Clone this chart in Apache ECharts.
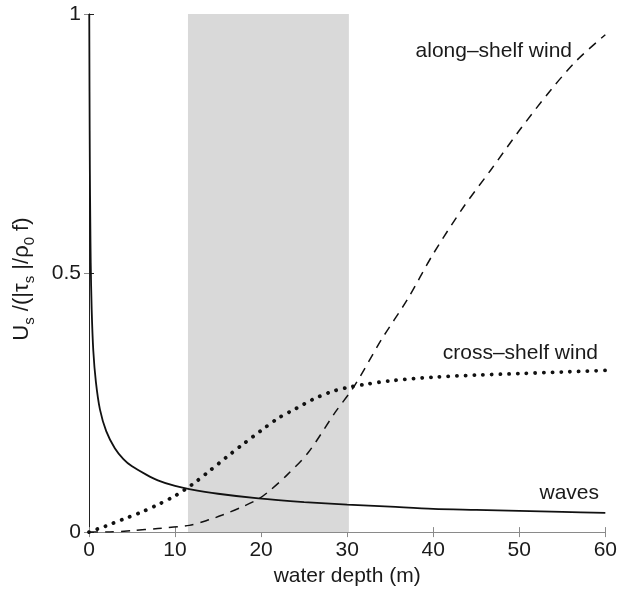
<!DOCTYPE html>
<html>
<head>
<meta charset="utf-8">
<script src="https://cdn.jsdelivr.net/npm/echarts@6/dist/echarts.min.js"></script>
<style>
  html, body { margin: 0; padding: 0; background: #fff; }
  #main { width: 620px; height: 592px; }
</style>
</head>
<body>
<div id="main"></div>
<script>
// values (water depth in m, normalised surface velocity)
var wavesDepth = [0.03, 0.06, 0.1, 0.15, 0.2, 0.31, 0.5, 0.8, 1.27, 2, 3, 4, 5, 6.65, 8, 10, 11.65, 15, 19.7, 25, 30, 35, 40, 45, 50, 55, 60];
var wavesVal = [1.0, 0.85, 0.7, 0.6, 0.52, 0.43, 0.35, 0.29, 0.237, 0.195, 0.162, 0.141, 0.127, 0.111, 0.1, 0.089, 0.083, 0.074, 0.065, 0.058, 0.053, 0.049, 0.045, 0.043, 0.041, 0.039, 0.037];

var crossDepth = [0, 1, 2, 4, 6, 8, 10, 12, 14, 16, 18, 20, 22, 24, 26, 28, 30, 32, 35, 40, 45, 50, 55, 60];
var crossVal = [0, 0.006, 0.012, 0.025, 0.038, 0.053, 0.07, 0.092, 0.118, 0.145, 0.171, 0.196, 0.22, 0.238, 0.256, 0.27, 0.279, 0.285, 0.292, 0.299, 0.303, 0.306, 0.309, 0.312];

var alongDepth = [0, 2, 5, 8, 11.65, 14, 15.5, 18, 19.7, 21, 23, 25.5, 28.6, 30.8, 34, 37, 40, 43.5, 46.65, 50, 53.6, 56.65, 60];
var alongVal = [0, 0, 0.003, 0.007, 0.013, 0.024, 0.033, 0.05, 0.064, 0.08, 0.11, 0.154, 0.231, 0.281, 0.372, 0.449, 0.537, 0.627, 0.698, 0.775, 0.852, 0.91, 0.96];

var shadedRange = [11.5, 30.2];
var xTicks = [0, 10, 20, 30, 40, 50, 60];
var yTicks = [0, 0.5, 1];

function pairs(xs, ys) {
    return xs.map(function (x, i) { return [x, ys[i]]; });
}

var font = 'Liberation Sans, Arial, sans-serif';
var chart = echarts.init(document.getElementById('main'));

function xAxisCfg(pos, showLabel) {
    return {
        type: 'value', position: pos, min: xTicks[0], max: xTicks[xTicks.length - 1], interval: 10,
        axisLine: { show: true, lineStyle: { color: '#8a8a8a', width: 1 } },
        axisTick: { show: true, inside: false, length: 5, lineStyle: { color: '#8a8a8a' } },
        axisLabel: { show: showLabel, fontSize: 21, color: '#1a1a1a', fontFamily: font, margin: 8 },
        splitLine: { show: false }
    };
}
function yAxisCfg(pos, showLabel, lineColor) {
    return {
        type: 'value', position: pos, min: yTicks[0], max: yTicks[yTicks.length - 1], interval: 0.5,
        axisLine: { show: true, lineStyle: { color: lineColor, width: 1 } },
        axisTick: { show: true, inside: false, length: 5, lineStyle: { color: lineColor } },
        axisLabel: { show: showLabel, fontSize: 21, color: '#1a1a1a', fontFamily: font, margin: 8 },
        splitLine: { show: false }
    };
}

var xBottom = xAxisCfg('bottom', true);
xBottom.name = 'water depth (m)';
xBottom.nameLocation = 'middle';
xBottom.nameGap = 32;
xBottom.nameTextStyle = { fontSize: 21, color: '#1a1a1a', fontFamily: font };

var yLeft = yAxisCfg('left', true, '#8a8a8a');
yLeft.name = '{b|U}{s|s}{b| /(|τ}{s|s}{b| |/ρ}{s|0}{b| f)}';
yLeft.nameLocation = 'middle';
yLeft.nameRotate = 90;
yLeft.nameGap = 52;
yLeft.nameTextStyle = {
    fontFamily: font, color: '#1a1a1a', padding: [0, 12, 0, 0],
    rich: {
        b: { fontSize: 22, lineHeight: 30, fontFamily: font, color: '#1a1a1a' },
        s: { fontSize: 15, lineHeight: 15, verticalAlign: 'bottom', fontFamily: font, color: '#1a1a1a' }
    }
};

chart.setOption({
    backgroundColor: '#fff',
    animation: false,
    grid: { left: 89, right: 11, top: 14, bottom: 59 },
    xAxis: [xBottom, xAxisCfg('top', false)],
    yAxis: [yLeft, yAxisCfg('right', false, '#222')],
    series: [
        {
            type: 'line', data: [], silent: true,
            markArea: {
                silent: true,
                itemStyle: { color: '#d9d9d9' },
                data: [[{ xAxis: shadedRange[0] }, { xAxis: shadedRange[1] }]]
            }
        },
        {
            name: 'waves', type: 'line', data: pairs(wavesDepth, wavesVal),
            symbol: 'none', smooth: 0.3, clip: true,
            lineStyle: { color: '#111', width: 1.8 }
        },
        {
            name: 'cross-shelf wind', type: 'line', data: pairs(crossDepth, crossVal),
            symbol: 'none', smooth: 0.3,
            lineStyle: { color: '#111', width: 3.8, type: [0.1, 8.6], cap: 'round' }
        },
        {
            name: 'along-shelf wind', type: 'line', data: pairs(alongDepth, alongVal),
            symbol: 'none', smooth: 0.3,
            lineStyle: { color: '#111', width: 1.5, type: [9, 7] }
        }
    ],
    graphic: [
        { type: 'text', x: 572, y: 51, style: { text: 'along–shelf wind', fontSize: 21, fontFamily: font, fill: '#1a1a1a', align: 'right', verticalAlign: 'middle' } },
        { type: 'text', x: 598, y: 353, style: { text: 'cross–shelf wind', fontSize: 21, fontFamily: font, fill: '#1a1a1a', align: 'right', verticalAlign: 'middle' } },
        { type: 'text', x: 599, y: 493, style: { text: 'waves', fontSize: 21, fontFamily: font, fill: '#1a1a1a', align: 'right', verticalAlign: 'middle' } }
    ]
});
</script>
</body>
</html>
